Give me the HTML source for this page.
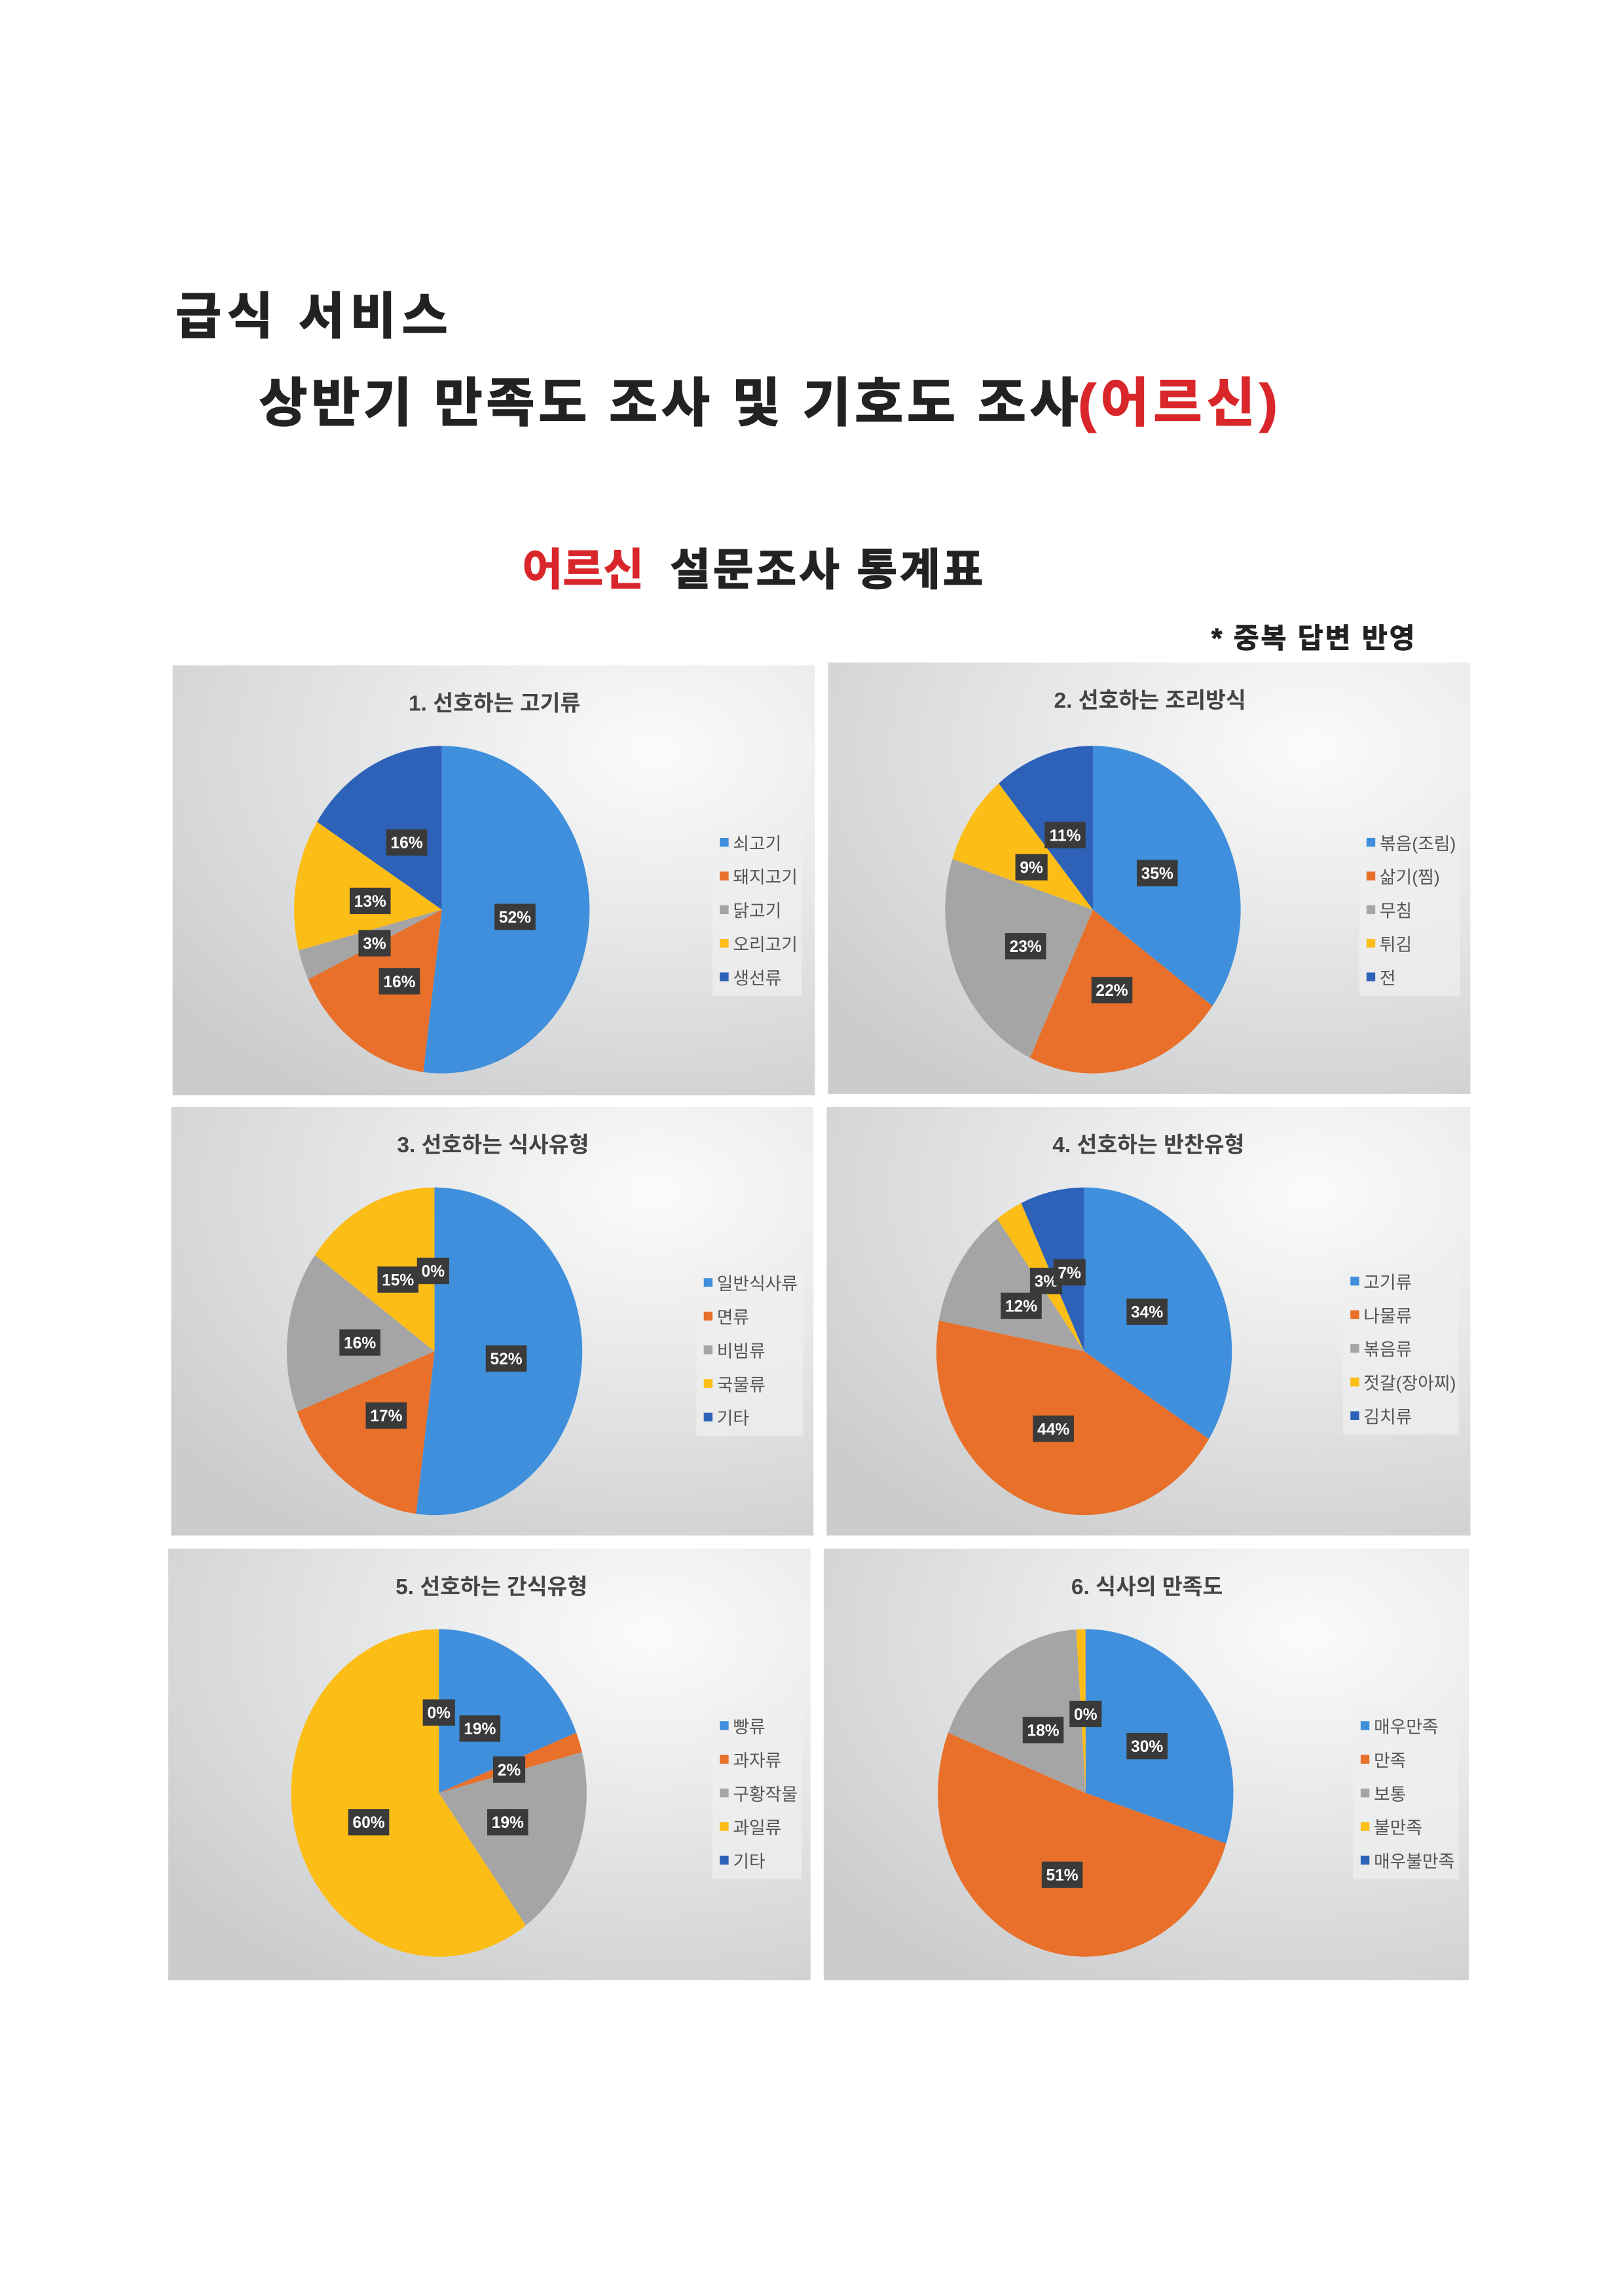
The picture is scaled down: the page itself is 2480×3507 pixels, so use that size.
<!DOCTYPE html>
<html><head><meta charset="utf-8">
<style>
html,body{margin:0;padding:0;background:#fff;}
svg{display:block;}
text{font-family:"Liberation Sans","Noto Sans CJK KR","NanumGothic",sans-serif;}
</style></head>
<body>
<svg id="s" width="2480" height="3507" viewBox="0 0 1110 1570" preserveAspectRatio="none" xmlns="http://www.w3.org/2000/svg">
<defs>
<radialGradient id="bg" cx="0.75" cy="0.2" r="0.95">
<stop offset="0" stop-color="#fbfbfb"/>
<stop offset="0.45" stop-color="#e6e7e8"/>
<stop offset="1" stop-color="#cbcccd"/>
</radialGradient>
</defs>
<rect width="1110" height="1570" fill="#fff"/>
<text x="120" y="228" font-size="34" font-weight="bold" fill="#222" stroke="#222" stroke-width="0.8" textLength="186">급식 서비스</text>
<text x="177" y="288" font-size="36" font-weight="bold" fill="#222" stroke="#222" stroke-width="0.8" textLength="560">상반기 만족도 조사 및 기호도 조사</text>
<text x="737" y="288" font-size="36" font-weight="bold" fill="#d9262a" stroke="#d9262a" stroke-width="0.8" textLength="136">(어르신)</text>
<text x="357" y="400" font-size="30" font-weight="bold" fill="#d9262a" stroke="#d9262a" stroke-width="0.7" textLength="83">어르신</text>
<text x="458" y="400" font-size="30" font-weight="bold" fill="#222" stroke="#222" stroke-width="0.7" textLength="214">설문조사 통계표</text>
<text x="828" y="443" font-size="19" font-weight="bold" fill="#222" stroke="#222" stroke-width="0.4" textLength="139">* 중복 답변 반영</text>
<g id="charts"></g>
</svg>
<script>
var C=["#3f8fdc","#e8702a","#a5a5a5","#fbbd16","#2d62b8"];
var P=[
{x:118,y:455,w:439,h:294,cx:302,cy:622,t:"1. 선호하는 고기류",tx:338,d:[52,16,3,13,16],
 L:["쇠고기","돼지고기","닭고기","오리고기","생선류"],lx:487,ly:565,lw:61,
 lab:[["52%",352,627],["16%",273,671],["3%",256,645],["13%",253,616],["16%",278,576]]},
{x:566,y:453,w:439,h:295,cx:747,cy:622,t:"2. 선호하는 조리방식",tx:786,d:[35,22,23,9,11],
 L:["볶음(조림)","삶기(찜)","무침","튀김","전"],lx:929,ly:565,lw:69,
 lab:[["35%",791,597],["22%",760,677],["23%",701,647],["9%",705,593],["11%",728,571]]},
{x:117,y:757,w:439,h:293,cx:297,cy:924,t:"3. 선호하는 식사유형",tx:337,d:[52,17,16,15,0.01],
 L:["일반식사류","면류","비빔류","국물류","기타"],lx:476,ly:866,lw:73,
 lab:[["52%",346,929],["17%",264,968],["16%",246,918],["15%",272,875],["0%",296,869]]},
{x:565,y:757,w:440,h:293,cx:741,cy:924,t:"4. 선호하는 반찬유형",tx:785,d:[34,44,12,3,7],
 L:["고기류","나물류","볶음류","젓갈(장아찌)","김치류"],lx:918,ly:865,lw:79,
 lab:[["34%",784,897],["44%",720,977],["12%",698,893],["3%",715,876],["7%",731,870]]},
{x:115,y:1059,w:439,h:295,cx:300,cy:1226,t:"5. 선호하는 간식유형",tx:336,d:[19,2,19,60,0.01],
 L:["빵류","과자류","구황작물","과일류","기타"],lx:487,ly:1169,lw:61,
 lab:[["19%",328,1182],["2%",348,1210],["19%",347,1246],["60%",252,1246],["0%",300,1171]]},
{x:563,y:1059,w:441,h:295,cx:742,cy:1226,t:"6. 식사의 만족도",tx:784,d:[30,51,18,1,0.01],
 L:["매우만족","만족","보통","불만족","매우불만족"],lx:925,ly:1169,lw:72,
 lab:[["30%",784,1194],["51%",726,1282],["18%",713,1183],["0%",742,1172]]}
];
var h="";
P.forEach(function(p){
 h+='<rect x="'+p.x+'" y="'+p.y+'" width="'+p.w+'" height="'+p.h+'" fill="url(#bg)"/>';
 h+='<text x="'+p.tx+'" y="'+(p.y+31)+'" font-size="15" font-weight="bold" fill="#444" text-anchor="middle">'+p.t+'</text>';
 var rx=101,ry=112,tot=p.d.reduce(function(a,b){return a+b},0),a=0;
 p.d.forEach(function(v,i){
  var a0=a/tot*2*Math.PI;a+=v;var a1=a/tot*2*Math.PI;
  var x0=p.cx+rx*Math.sin(a0),y0=p.cy-ry*Math.cos(a0),x1=p.cx+rx*Math.sin(a1),y1=p.cy-ry*Math.cos(a1);
  var lg=(a1-a0)>Math.PI?1:0;
  h+='<path d="M'+p.cx+' '+p.cy+' L'+x0.toFixed(2)+' '+y0.toFixed(2)+' A'+rx+' '+ry+' 0 '+lg+' 1 '+x1.toFixed(2)+' '+y1.toFixed(2)+' Z" fill="'+C[i]+'"/>';
 });
 p.lab.forEach(function(l){
  var w=l[0].length>2?28:22;
  h+='<rect x="'+(l[1]-w/2)+'" y="'+(l[2]-9)+'" width="'+w+'" height="18" fill="#3a3a3a"/>';
  h+='<text x="'+l[1]+'" y="'+(l[2]+4)+'" font-size="11" font-weight="bold" fill="#fff" text-anchor="middle">'+l[0]+'</text>';
 });
 h+='<rect x="'+p.lx+'" y="'+p.ly+'" width="'+p.lw+'" height="116" fill="#f0f0f0" opacity="0.7"/>';
 p.L.forEach(function(t,i){
  var yy=p.ly+12+i*23;
  h+='<rect x="'+(p.lx+5)+'" y="'+(yy-4)+'" width="6" height="6" fill="'+C[i]+'"/>';
  h+='<text x="'+(p.lx+14)+'" y="'+(yy+4)+'" font-size="12" fill="#555">'+t+'</text>';
 });
});
document.getElementById("charts").innerHTML=h;
</script>
</body></html>
